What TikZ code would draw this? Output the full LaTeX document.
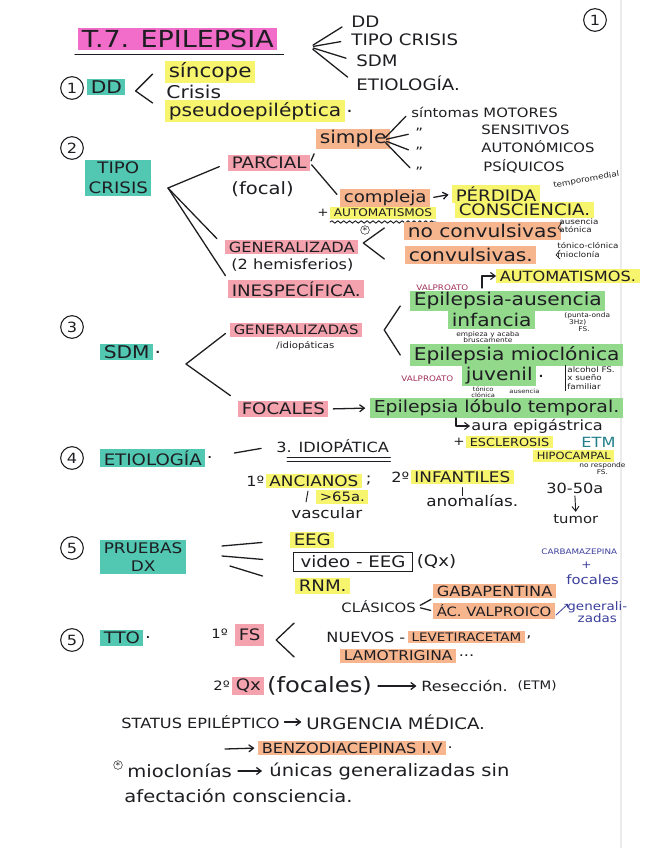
\documentclass[tikz,border=0pt]{standalone}
\usepackage{fontspec}
\setmainfont{DejaVu Sans}[FakeStretch=1.15]
\usetikzlibrary{arrows.meta,positioning,calc,decorations.pathmorphing}
\definecolor{ink}{HTML}{1E1E22}
\definecolor{hlpink}{HTML}{F26DC9}
\definecolor{hlrose}{HTML}{F4A3AE}
\definecolor{hlteal}{HTML}{52C7B2}
\definecolor{hlyellow}{HTML}{F7F46E}
\definecolor{hlorange}{HTML}{F7B58E}
\definecolor{hlgreen}{HTML}{93D98C}
\definecolor{wine}{HTML}{A0305A}
\definecolor{pen}{HTML}{3B3F9C}
\definecolor{tealpen}{HTML}{23808A}
\newcommand{\hwsize}[2]{\fontsize{#1}{#2}\selectfont}

\begin{document}
\begin{tikzpicture}[x=0.03cm, y=-0.03cm,
    txt/.style={anchor=west, inner sep=1pt, text=ink},
    hl/.style={txt, fill=#1, inner xsep=3pt, inner ysep=1.5pt},
    stroke/.style={draw=ink, line width=1.1pt, line cap=round, line join=round},
    arr/.style={stroke, -{Straight Barb[length=4pt,width=6pt]}},
    num/.style={draw=ink, circle, line width=0.9pt, inner sep=0pt, minimum size=0.68cm, text=ink, font=\hwsize{12}{12}},
    note/.style={txt, font=\hwsize{6.5}{7}, align=left}
]
\path[use as bounding box, fill=white] (0,0) rectangle (655,848);
\draw[black!8, line width=1.5pt] (621,0) -- (621,848);

% cabecera
\node[hl=hlpink, font=\hwsize{20}{20}] (title) at (78,39) {T.7. EPILEPSIA};
\draw[stroke] ($(title.south west)+(-3,5)$) -- ($(title.south east)+(6,5)$);
\node[txt, font=\hwsize{13.5}{13.5}] (iDD) at (350,22) {DD};
\node[txt, font=\hwsize{13.5}{13.5}] (iTipo) at (350,40) {TIPO CRISIS};
\node[txt, font=\hwsize{13.5}{13.5}] (iSdm) at (355,61) {SDM};
\node[txt, font=\hwsize{13.5}{13.5}] (iEtio) at (355,83) {ETIOLOGÍA.};
\coordinate (hub0) at (310,47);
\foreach \n in {iDD,iTipo,iSdm,iEtio}
    \draw[stroke, shorten <=3pt, shorten >=8pt] (hub0) -- (\n.west);
\node[num] (page) at (595,20) {1};

% 1. DD
\node[num] (n1) at (72,88) {1};
\node[hl=hlteal, font=\hwsize{15}{15}] (dd) at (87,87) {DD};
\draw[stroke] ($(dd.east)+(27,-13)$) -- ($(dd.east)+(10,4)$) -- ($(dd.east)+(27,16)$);
\node[hl=hlyellow, font=\hwsize{16}{16}] (sinc) at (165,72) {síncope};
\node[txt, font=\hwsize{15}{15}] (crisis) at (165,92) {Crisis};
\node[hl=hlyellow, font=\hwsize{15}{15}] (pseudo) at (165,111) {pseudoepiléptica};
\node[txt, font=\hwsize{15}{15}, right=0pt of pseudo] (pseudoDot) {.};

% 2. tipo crisis
\node[num] (n2) at (72,148) {2};
\node[hl=hlteal, font=\hwsize{13.5}{17}, align=center] (tipo) at (85,178) {TIPO\\CRISIS};
\coordinate (tipoHub) at (168,188);
\node[hl=hlrose, font=\hwsize{13.5}{13.5}] (parcial) at (228,163) {PARCIAL};
\node[txt, font=\hwsize{14.5}{14.5}] (focal) at (230,189) {(focal)};
\node[hl=hlrose, font=\hwsize{12}{12}] (gen) at (225,247) {GENERALIZADA};
\node[txt, font=\hwsize{12}{12}] (hemis) at (230,265) {(2 hemisferios)};
\node[hl=hlrose, font=\hwsize{13.5}{13.5}] (inesp) at (228,289) {INESPECÍFICA.};
\draw[stroke, shorten >=8pt] (tipoHub) -- (parcial.west);
\draw[stroke, shorten >=10pt] (tipoHub) -- (gen.west);
\draw[stroke, shorten >=4pt] (tipoHub) -- (inesp.north west);

\node[hl=hlorange, font=\hwsize{15}{15}] (simple) at (316,139) {simple};
\node[hl=hlorange, font=\hwsize{13.5}{13.5}] (compleja) at (340,198) {compleja};
\draw[stroke, shorten <=2pt, shorten >=4pt] (parcial.east) -- (simple.south west);
\draw[stroke, shorten <=2pt, shorten >=4pt] (parcial.east) -- (compleja.west);

\node[txt, font=\hwsize{11}{11}] (motor) at (410,112) {síntomas MOTORES};
\node[txt, font=\hwsize{11}{11}] (d1) at (414,133) {"};
\node[txt, font=\hwsize{11}{11}] (sens) at (480,130) {SENSITIVOS};
\node[txt, font=\hwsize{11}{11}] (d2) at (414,152) {"};
\node[txt, font=\hwsize{11}{11}] (auton) at (480,147) {AUTONÓMICOS};
\node[txt, font=\hwsize{11}{11}] (d3) at (414,172) {"};
\node[txt, font=\hwsize{11}{11}] (psiq) at (482,166) {PSÍQUICOS};
\coordinate (simHub) at (383,140);
\foreach \n in {motor,d1,d2,d3}
    \draw[stroke, shorten <=3pt, shorten >=5pt] (simHub) -- (\n.west);

\node[hl=hlyellow, font=\hwsize{13.5}{13.5}] (perdida) at (452,194) {PÉRDIDA};
\draw[arr, shorten <=3pt, shorten >=3pt] (compleja.east) -- (perdida.west);
\node[txt, font=\hwsize{6.5}{6.5}, rotate=10] (tempo) at (552,186) {temporomedial};
\node[txt, font=\hwsize{10}{10}] (plus1) at (316,213) {+};
\node[hl=hlyellow, font=\hwsize{9}{9}, right=0pt of plus1] (automat) {AUTOMATISMOS};
\draw[stroke, line width=0.8pt, decorate, decoration={snake, amplitude=1pt, segment length=5pt}]
    ($(automat.south west)+(0,3)$) -- ($(automat.south east)+(0,3)$);
\node[hl=hlyellow, font=\hwsize{13.5}{13.5}] (consc) at (455,210) {CONSCIENCIA.};
\node[draw=ink, circle, inner sep=0.3pt, font=\hwsize{7}{7}, text=ink] (ast1) at (365,230) {*};

\node[hl=hlorange, font=\hwsize{15}{15}] (nocon) at (404,231) {no convulsivas};
\node[hl=hlorange, font=\hwsize{15}{15}] (conv) at (405,255) {convulsivas.};
\draw[stroke] ($(gen.east)+(26,-19)$) -- ($(gen.east)+(5,-4)$) -- ($(gen.east)+(26,12)$);
\node[note] (noconNote) at (558,226) {ausencia\\atónica};
\node[note] (convNote) at (556,250) {tónico-clónica\\mioclonía};
\draw[stroke, line width=0.6pt] ($(noconNote.west)+(4,-4)$) -- ($(noconNote.west)+(0,2)$) -- ($(noconNote.west)+(4,5)$);
\draw[stroke, line width=0.6pt] ($(convNote.west)+(4,0)$) -- ($(convNote.west)+(0,5)$) -- ($(convNote.west)+(4,9)$);

% 3. SDM
\node[num] (n3) at (72,327) {3};
\node[hl=hlteal, font=\hwsize{15}{15}] (sdm) at (100,352) {SDM};
\node[txt, font=\hwsize{15}{15}, right=0pt of sdm] (sdmDot) {.};
\coordinate (sdmHub) at (186,364);
\node[hl=hlrose, font=\hwsize{11}{11}] (gens) at (230,330) {GENERALIZADAS};
\node[txt, font=\hwsize{7.5}{7.5}] (idiop) at (275,346) {/idiopáticas};
\node[hl=hlrose, font=\hwsize{13.5}{13.5}] (focales) at (238,409) {FOCALES};
\draw[stroke, shorten >=5pt] (sdmHub) -- (gens.west);
\draw[stroke, shorten >=8pt] (sdmHub) -- (focales.north west);
\draw[stroke] ($(gens.east)+(38,-24)$) -- ($(gens.east)+(22,0)$) -- ($(gens.east)+(38,25)$);

\node[txt, font=\hwsize{6.5}{6.5}, text=wine] (valpro1) at (415,288) {VALPROATO};
\node[hl=hlyellow, font=\hwsize{12}{12}] (automat2) at (496,276) {AUTOMATISMOS.};
\draw[arr, line width=0.9pt] ($(automat2.west)+(-14,12)$) |- (automat2.west);
\node[hl=hlgreen, font=\hwsize{15}{15}] (eaus) at (410,301) {Epilepsia-ausencia};
\node[hl=hlgreen, font=\hwsize{15}{15}] (infan) at (448,320) {infancia};
\node[note, font=\hwsize{5.5}{6}] (punta) at (563,322) {(punta-onda\\\ \ 3Hz)\\\hspace{12pt}FS.};
\node[txt, font=\hwsize{5.5}{5.5}, align=center] (brusco) at (455,337) {empieza y acaba\\bruscamente};
\node[hl=hlgreen, font=\hwsize{15}{15}] (emio) at (410,355) {Epilepsia mioclónica};
\node[hl=hlgreen, font=\hwsize{15}{15}] (juven) at (462,376) {juvenil};
\node[txt, font=\hwsize{15}{15}, right=0pt of juven] (juvDot) {.};
\node[txt, font=\hwsize{6.5}{6.5}, text=wine] (valpro2) at (400,379) {VALPROATO};
\node[note, font=\hwsize{6.5}{7}] (alcohol) at (566,378) {alcohol FS.\\x sueño\\familiar};
\draw[stroke, line width=0.7pt] ($(alcohol.north west)+(-1,0)$) -- ($(alcohol.south west)+(-1,0)$);
\node[txt, font=\hwsize{5}{5}, align=center] (tcNote) at (470,392) {tónico\\clónica};
\node[txt, font=\hwsize{5}{5}] (ausNote) at (508,391) {ausencia};

\node[hl=hlgreen, font=\hwsize{14}{14}] (ltemp) at (370,408) {Epilepsia lóbulo temporal.};
\draw[arr, shorten <=4pt, shorten >=4pt] (focales.east) -- (ltemp.west);
\node[txt, font=\hwsize{12}{12}] (aura) at (470,426) {aura epigástrica};
\draw[arr, line width=0.9pt] ($(aura.west)+(-14,-8)$) |- (aura.west);
\node[txt, font=\hwsize{10}{10}] (plus2) at (452,442) {+};
\node[hl=hlyellow, font=\hwsize{9.5}{9.5}, right=0pt of plus2] (escl) {ESCLEROSIS};
\node[txt, font=\hwsize{12}{12}, text=tealpen] (etm) at (580,442) {ETM};
\node[hl=hlyellow, font=\hwsize{8.5}{8.5}] (hipo) at (533,456) {HIPOCAMPAL};
\node[txt, font=\hwsize{5.5}{6}, align=center] (noresp) at (578,469) {no responde\\FS.};

% 4. etiologia
\node[num] (n4) at (72,458) {4};
\node[hl=hlteal, font=\hwsize{13.5}{13.5}] (etio) at (100,458) {ETIOLOGÍA};
\node[txt, font=\hwsize{13.5}{13.5}, right=0pt of etio] (etioDot) {.};
\node[txt, font=\hwsize{12}{12}] (idio) at (275,446) {3. IDIOPÁTICA};
\draw[stroke, shorten <=25pt, shorten >=12pt] (etio.east) -- (idio.west);
\draw[stroke, line width=0.8pt] ($(idio.south west)+(12,3)$) -- ($(idio.south east)+(0,3)$);
\draw[stroke, line width=0.8pt] ($(idio.south west)+(12,7)$) -- ($(idio.south east)+(0,7)$);
\node[txt, font=\hwsize{12}{12}] (first) at (245,481) {1º};
\node[hl=hlyellow, font=\hwsize{12.5}{12.5}, right=0pt of first] (ancianos) {ANCIANOS};
\node[txt, font=\hwsize{12.5}{12.5}, right=2pt of ancianos] (semi) {;};
\node[txt, font=\hwsize{12}{12}] (second) at (390,477) {2º};
\node[hl=hlyellow, font=\hwsize{12.5}{12.5}, right=0pt of second] (infantiles) {INFANTILES};
\node[hl=hlyellow, font=\hwsize{11}{11}] (mayor) at (316,497) {>65a.};
\node[txt, font=\hwsize{12.5}{12.5}] (vascular) at (290,513) {vascular};
\node[txt, font=\hwsize{12.5}{12.5}] (anomal) at (425,501) {anomalías.};
\draw[stroke, line width=0.8pt] ($(mayor.west)+(-8,-6)$) -- ($(mayor.west)+(-10,5)$);
\draw[stroke, line width=0.8pt] (infantiles.south) ++(0,3) -- ++(0,8);
\node[txt, font=\hwsize{12}{12}] (edad) at (545,488) {30-50a};
\node[txt, font=\hwsize{11}{11}] (tumor) at (552,519) {tumor};
\draw[arr, line width=0.8pt, shorten <=1pt, shorten >=1pt] (edad.south) -- (tumor.north);

% 5. pruebas dx
\node[num] (n5) at (72,548) {5};
\node[hl=hlteal, font=\hwsize{12.5}{16}, align=center] (pruebas) at (100,557) {PRUEBAS\\DX};
\coordinate (prA) at (222,546);
\coordinate (prB) at (222,556);
\coordinate (prC) at (230,566);
\node[hl=hlyellow, font=\hwsize{13.5}{13.5}] (eeg) at (290,540) {EEG};
\node[txt, draw=ink, line width=1pt, font=\hwsize{13.5}{13.5}, inner xsep=6pt, inner ysep=3pt] (veeg) at (293,562) {video - EEG};
\node[txt, font=\hwsize{13.5}{13.5}, right=2pt of veeg] (qx1) {(Qx)};
\node[hl=hlyellow, font=\hwsize{13.5}{13.5}] (rnm) at (295,586) {RNM.};
\draw[stroke, shorten >=24pt] (prA) -- (eeg.west);
\draw[stroke, shorten >=26pt] (prB) -- (veeg.west);
\draw[stroke, shorten >=29pt] (prC) -- (rnm.west);

% 5. tto
\node[num] (n6) at (72,640) {5};
\node[hl=hlteal, font=\hwsize{13.5}{13.5}] (tto) at (100,638) {TTO};
\node[txt, font=\hwsize{13.5}{13.5}, right=0pt of tto] (ttoDot) {.};
\node[txt, font=\hwsize{11}{11}] (uno) at (210,634) {1º};
\node[hl=hlrose, font=\hwsize{13.5}{13.5}, inner ysep=4pt] (fs) at (235,635) {FS};
\draw[stroke] ($(fs.east)+(30,-12)$) -- ($(fs.east)+(12,5)$) -- ($(fs.east)+(30,22)$);
\node[txt, font=\hwsize{11}{11}] (clasicos) at (340,607) {CLÁSICOS};
\node[hl=hlorange, font=\hwsize{12}{12}] (gaba) at (433,591) {GABAPENTINA};
\node[hl=hlorange, font=\hwsize{11}{11}] (valproico) at (433,611) {ÁC. VALPROICO};
\draw[stroke, shorten <=3pt, shorten >=2pt] (clasicos.east) -- (gaba.south west);
\draw[stroke, shorten <=3pt, shorten >=2pt] (clasicos.east) -- (valproico.west);
\node[txt, font=\hwsize{6.5}{6.5}, text=pen] (carba) at (540,552) {CARBAMAZEPINA};
\node[txt, font=\hwsize{9}{9}, text=pen] (carbaPlus) at (580,565) {+};
\node[txt, font=\hwsize{11}{11}, text=pen] (focNote) at (565,580) {focales};
\node[txt, font=\hwsize{10}{10}, text=pen, align=center] (genNote) at (566,612) {generali-\\zadas};
\draw[stroke, draw=pen, line width=0.7pt, -{Straight Barb[length=2pt]}] ($(valproico.east)+(1,4)$) -- ($(genNote.west)+(2,-8)$);
\node[txt, font=\hwsize{12}{12}] (nuevos) at (325,637) {NUEVOS -};
\node[hl=hlorange, font=\hwsize{10}{10}, right=1pt of nuevos] (leve) {LEVETIRACETAM};
\node[txt, font=\hwsize{12}{12}, right=0pt of leve] (leveComma) {,};
\node[hl=hlorange, font=\hwsize{11.5}{11.5}] (lamo) at (340,656) {LAMOTRIGINA};
\node[txt, font=\hwsize{12}{12}, right=1pt of lamo] (lamoDots) {...};

% 2. cirugia
\node[txt, font=\hwsize{11}{11}] (dos) at (212,686) {2º};
\node[hl=hlrose, font=\hwsize{13.5}{13.5}] (qx2) at (232,686) {Qx};
\node[txt, font=\hwsize{18}{18}, right=1pt of qx2] (focales2) {(focales)};
\node[txt, font=\hwsize{12}{12}] (reseccion) at (420,686) {Resección.};
\node[txt, font=\hwsize{10}{10}, right=6pt of reseccion] (etm2) {(ETM)};
\draw[arr, shorten <=4pt, shorten >=3pt] (focales2.east) -- (reseccion.west);

% status
\node[txt, font=\hwsize{12}{12}] (status) at (120,722) {STATUS EPILÉPTICO};
\node[txt, font=\hwsize{13.5}{13.5}] (urgencia) at (305,722) {URGENCIA MÉDICA.};
\draw[arr, shorten <=3pt, shorten >=3pt] (status.east) -- (urgencia.west);
\coordinate (benzoTail) at (225,749);
\node[hl=hlorange, font=\hwsize{12}{12}] (benzo) at (258,748) {BENZODIACEPINAS I.V};
\node[txt, font=\hwsize{12}{12}, right=0pt of benzo] (benzoDot) {.};
\draw[arr, shorten >=3pt] (benzoTail) -- (benzo.west);

% nota mioclonias
\node[draw=ink, circle, inner sep=0.3pt, font=\hwsize{7}{7}, text=ink] (ast2) at (118,765) {*};
\node[txt, font=\hwsize{14.5}{14.5}] (mioc) at (126,771) {mioclonías};
\node[txt, font=\hwsize{14.5}{14.5}] (unicas) at (268,771) {únicas generalizadas sin};
\draw[arr, shorten <=4pt, shorten >=5pt] (mioc.east) -- (unicas.west);
\node[txt, font=\hwsize{14.5}{14.5}] (afect) at (123,796) {afectación consciencia.};
\end{tikzpicture}
\end{document}
